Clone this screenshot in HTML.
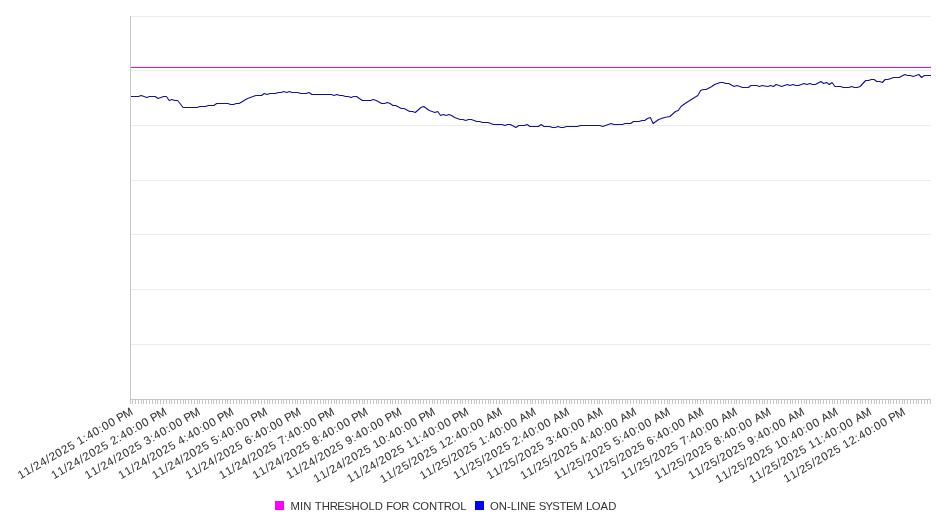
<!DOCTYPE html>
<html><head><meta charset="utf-8"><style>
html,body{margin:0;padding:0;background:#fff;width:946px;height:526px;overflow:hidden}
svg{display:block}
text{font-family:"Liberation Sans",sans-serif;}
  .lab{font-size:11.45px;fill:#333;stroke:#333;stroke-width:0.05px;}
.leg{font-size:11.3px;fill:#333}
</style></head><body>
<svg width="946" height="526" viewBox="0 0 946 526">
<rect width="946" height="526" fill="#fff"/>
<path d="M130 16.5H931M130 70.5H931M130 125.5H931M130 180.5H931M130 234.5H931M130 289.5H931M130 344.5H931" stroke="#ebebeb" stroke-width="1" fill="none"/>
<path d="M130 66.5H931" stroke="#ffd4ff" stroke-width="1" fill="none"/>
<path d="M130 67.5H931" stroke="#aa3caa" stroke-width="1" fill="none"/>
<polyline points="130.0,96.5 138.4,96.5 141.2,95.5 146.8,97.5 149.6,96.5 155.2,96.5 158.0,98.5 160.8,97.5 163.6,96.5 166.4,96.5 169.2,100.5 172.0,99.5 174.8,100.5 177.6,100.5 183.1,107.5 197.1,107.5 199.9,106.5 205.5,106.5 208.3,105.5 213.9,105.5 216.7,103.5 227.9,103.5 230.7,104.5 233.5,104.5 236.3,103.5 239.1,103.5 247.5,98.5 250.3,97.5 255.9,95.5 261.5,95.5 264.3,93.5 267.1,94.5 269.9,93.5 275.5,93.5 278.3,92.5 281.0,92.5 283.8,91.5 286.6,92.5 289.4,91.5 292.2,92.5 297.8,92.5 300.6,93.5 306.2,93.5 309.0,92.5 311.8,94.5 331.4,94.5 334.2,95.5 337.0,94.5 339.8,95.5 342.6,95.5 345.4,96.5 348.2,96.5 351.0,97.5 353.8,96.5 356.6,96.5 362.2,100.5 370.6,100.5 373.4,99.5 376.2,100.5 381.7,103.5 384.5,103.5 387.3,102.5 390.1,103.5 392.9,105.5 395.7,105.5 401.3,108.5 404.1,108.5 409.7,111.5 412.5,111.5 415.3,112.5 420.9,107.5 423.7,106.5 429.3,110.5 434.9,112.5 437.7,111.5 440.5,115.5 443.3,114.5 446.1,115.5 448.9,114.5 451.7,115.5 454.5,117.5 460.1,119.5 462.9,119.5 465.7,120.5 468.5,119.5 471.3,119.5 476.9,121.5 479.7,121.5 482.4,122.5 488.0,122.5 493.6,124.5 502.0,124.5 504.8,125.5 507.6,124.5 510.4,124.5 516.0,127.5 518.8,125.5 524.4,125.5 527.2,124.5 530.0,126.5 538.4,126.5 541.2,124.5 544.0,126.5 549.6,126.5 552.4,127.5 555.2,127.5 558.0,126.5 560.8,127.5 563.6,127.5 566.4,126.5 577.6,126.5 580.3,125.5 599.9,125.5 602.7,126.5 608.3,124.5 611.1,123.5 613.9,124.5 622.3,124.5 625.1,123.5 630.7,123.5 633.5,121.5 639.1,121.5 641.9,120.5 644.7,120.5 647.5,118.5 650.3,117.5 653.1,123.5 658.7,119.5 664.3,117.5 669.9,116.5 675.5,111.5 678.3,110.5 681.0,106.5 686.6,102.5 697.8,95.5 700.6,90.5 703.4,89.5 706.2,89.5 711.8,86.5 714.6,84.5 720.2,82.5 723.0,82.5 725.8,83.5 728.6,83.5 734.2,86.5 737.0,85.5 742.6,87.5 748.2,87.5 751.0,85.5 756.6,85.5 759.4,86.5 762.2,85.5 767.8,86.5 770.6,85.5 773.4,86.5 776.2,84.5 781.7,86.5 784.5,85.5 787.3,84.5 790.1,85.5 792.9,84.5 795.7,85.5 798.5,85.5 801.3,84.5 804.1,83.5 806.9,84.5 809.7,83.5 812.5,84.5 815.3,84.5 820.9,81.5 823.7,83.5 826.5,82.5 829.3,84.5 832.1,82.5 834.9,86.5 840.5,86.5 843.3,87.5 848.9,87.5 851.7,86.5 854.5,87.5 857.3,87.5 860.1,86.5 865.7,80.5 868.5,80.5 871.3,79.5 874.1,79.5 876.9,81.5 879.7,81.5 882.4,82.5 885.2,79.5 888.0,79.5 893.6,77.5 896.4,77.5 899.2,77.5 904.8,74.5 907.6,75.5 910.4,75.5 913.2,76.5 918.8,74.5 921.6,77.5 924.4,75.5 930.0,75.5 931.0,75.5" stroke="#14109a" stroke-width="1.1" fill="none" stroke-linejoin="round"/>
<path d="M130.5 16V399" stroke="#c6c6c6" stroke-width="1" fill="none"/>
<path d="M130 399.5H931" stroke="#c6c6c6" stroke-width="1" fill="none"/>
<path d="M130.5 399V404M132.5 399V404M135.5 399V404M138.5 399V404M141.5 399V404M143.5 399V404M146.5 399V404M149.5 399V404M152.5 399V404M155.5 399V404M157.5 399V404M160.5 399V404M163.5 399V404M166.5 399V404M169.5 399V404M171.5 399V404M174.5 399V404M177.5 399V404M180.5 399V404M183.5 399V404M185.5 399V404M188.5 399V404M191.5 399V404M194.5 399V404M197.5 399V404M199.5 399V404M202.5 399V404M205.5 399V404M208.5 399V404M211.5 399V404M213.5 399V404M216.5 399V404M219.5 399V404M222.5 399V404M225.5 399V404M227.5 399V404M230.5 399V404M233.5 399V404M236.5 399V404M239.5 399V404M241.5 399V404M244.5 399V404M247.5 399V404M250.5 399V404M253.5 399V404M255.5 399V404M258.5 399V404M261.5 399V404M264.5 399V404M267.5 399V404M269.5 399V404M272.5 399V404M275.5 399V404M278.5 399V404M281.5 399V404M283.5 399V404M286.5 399V404M289.5 399V404M292.5 399V404M295.5 399V404M297.5 399V404M300.5 399V404M303.5 399V404M306.5 399V404M309.5 399V404M311.5 399V404M314.5 399V404M317.5 399V404M320.5 399V404M323.5 399V404M325.5 399V404M328.5 399V404M331.5 399V404M334.5 399V404M336.5 399V404M339.5 399V404M342.5 399V404M345.5 399V404M348.5 399V404M350.5 399V404M353.5 399V404M356.5 399V404M359.5 399V404M362.5 399V404M364.5 399V404M367.5 399V404M370.5 399V404M373.5 399V404M376.5 399V404M378.5 399V404M381.5 399V404M384.5 399V404M387.5 399V404M390.5 399V404M392.5 399V404M395.5 399V404M398.5 399V404M401.5 399V404M404.5 399V404M406.5 399V404M409.5 399V404M412.5 399V404M415.5 399V404M418.5 399V404M420.5 399V404M423.5 399V404M426.5 399V404M429.5 399V404M432.5 399V404M434.5 399V404M437.5 399V404M440.5 399V404M443.5 399V404M446.5 399V404M448.5 399V404M451.5 399V404M454.5 399V404M457.5 399V404M460.5 399V404M462.5 399V404M465.5 399V404M468.5 399V404M471.5 399V404M474.5 399V404M476.5 399V404M479.5 399V404M482.5 399V404M485.5 399V404M488.5 399V404M490.5 399V404M493.5 399V404M496.5 399V404M499.5 399V404M502.5 399V404M504.5 399V404M507.5 399V404M510.5 399V404M513.5 399V404M516.5 399V404M518.5 399V404M521.5 399V404M524.5 399V404M527.5 399V404M530.5 399V404M532.5 399V404M535.5 399V404M538.5 399V404M541.5 399V404M543.5 399V404M546.5 399V404M549.5 399V404M552.5 399V404M555.5 399V404M557.5 399V404M560.5 399V404M563.5 399V404M566.5 399V404M569.5 399V404M571.5 399V404M574.5 399V404M577.5 399V404M580.5 399V404M583.5 399V404M585.5 399V404M588.5 399V404M591.5 399V404M594.5 399V404M597.5 399V404M599.5 399V404M602.5 399V404M605.5 399V404M608.5 399V404M611.5 399V404M613.5 399V404M616.5 399V404M619.5 399V404M622.5 399V404M625.5 399V404M627.5 399V404M630.5 399V404M633.5 399V404M636.5 399V404M639.5 399V404M641.5 399V404M644.5 399V404M647.5 399V404M650.5 399V404M653.5 399V404M655.5 399V404M658.5 399V404M661.5 399V404M664.5 399V404M667.5 399V404M669.5 399V404M672.5 399V404M675.5 399V404M678.5 399V404M681.5 399V404M683.5 399V404M686.5 399V404M689.5 399V404M692.5 399V404M695.5 399V404M697.5 399V404M700.5 399V404M703.5 399V404M706.5 399V404M709.5 399V404M711.5 399V404M714.5 399V404M717.5 399V404M720.5 399V404M723.5 399V404M725.5 399V404M728.5 399V404M731.5 399V404M734.5 399V404M736.5 399V404M739.5 399V404M742.5 399V404M745.5 399V404M748.5 399V404M750.5 399V404M753.5 399V404M756.5 399V404M759.5 399V404M762.5 399V404M764.5 399V404M767.5 399V404M770.5 399V404M773.5 399V404M776.5 399V404M778.5 399V404M781.5 399V404M784.5 399V404M787.5 399V404M790.5 399V404M792.5 399V404M795.5 399V404M798.5 399V404M801.5 399V404M804.5 399V404M806.5 399V404M809.5 399V404M812.5 399V404M815.5 399V404M818.5 399V404M820.5 399V404M823.5 399V404M826.5 399V404M829.5 399V404M832.5 399V404M834.5 399V404M837.5 399V404M840.5 399V404M843.5 399V404M846.5 399V404M848.5 399V404M851.5 399V404M854.5 399V404M857.5 399V404M860.5 399V404M862.5 399V404M865.5 399V404M868.5 399V404M871.5 399V404M874.5 399V404M876.5 399V404M879.5 399V404M882.5 399V404M885.5 399V404M888.5 399V404M890.5 399V404M893.5 399V404M896.5 399V404M899.5 399V404M902.5 399V404M904.5 399V404M907.5 399V404M910.5 399V404M913.5 399V404M916.5 399V404M918.5 399V404M921.5 399V404M924.5 399V404M927.5 399V404M930.5 399V404" stroke="#c6c6c6" stroke-width="1" fill="none"/>
<g class="lab" style="filter:grayscale(1)">
<text transform="translate(131.94,410.40) rotate(-30) scale(1.0,1)" x="-131.12 -123.98 -116.93 -113.06 -105.92 -98.87 -95.00 -87.86 -80.73 -73.59 -66.64 -62.88 -55.83 -51.96 -44.83 -37.77 -33.91 -26.77 -19.82 -16.88 -9.61" y="4.0">11/24/2025 1:40:00 PM</text>
<text transform="translate(165.51,410.40) rotate(-30) scale(1.0,1)" x="-131.12 -123.98 -116.93 -113.06 -105.92 -98.87 -95.00 -87.86 -80.73 -73.59 -66.64 -62.88 -55.83 -51.96 -44.83 -37.77 -33.91 -26.77 -19.82 -16.88 -9.61" y="4.0">11/24/2025 2:40:00 PM</text>
<text transform="translate(199.07,410.40) rotate(-30) scale(1.0,1)" x="-131.12 -123.98 -116.93 -113.06 -105.92 -98.87 -95.00 -87.86 -80.73 -73.59 -66.64 -62.88 -55.83 -51.96 -44.83 -37.77 -33.91 -26.77 -19.82 -16.88 -9.61" y="4.0">11/24/2025 3:40:00 PM</text>
<text transform="translate(232.64,410.40) rotate(-30) scale(1.0,1)" x="-131.12 -123.98 -116.93 -113.06 -105.92 -98.87 -95.00 -87.86 -80.73 -73.59 -66.64 -62.88 -55.83 -51.96 -44.83 -37.77 -33.91 -26.77 -19.82 -16.88 -9.61" y="4.0">11/24/2025 4:40:00 PM</text>
<text transform="translate(266.21,410.40) rotate(-30) scale(1.0,1)" x="-131.12 -123.98 -116.93 -113.06 -105.92 -98.87 -95.00 -87.86 -80.73 -73.59 -66.64 -62.88 -55.83 -51.96 -44.83 -37.77 -33.91 -26.77 -19.82 -16.88 -9.61" y="4.0">11/24/2025 5:40:00 PM</text>
<text transform="translate(299.77,410.40) rotate(-30) scale(1.0,1)" x="-131.12 -123.98 -116.93 -113.06 -105.92 -98.87 -95.00 -87.86 -80.73 -73.59 -66.64 -62.88 -55.83 -51.96 -44.83 -37.77 -33.91 -26.77 -19.82 -16.88 -9.61" y="4.0">11/24/2025 6:40:00 PM</text>
<text transform="translate(333.34,410.40) rotate(-30) scale(1.0,1)" x="-131.12 -123.98 -116.93 -113.06 -105.92 -98.87 -95.00 -87.86 -80.73 -73.59 -66.64 -62.88 -55.83 -51.96 -44.83 -37.77 -33.91 -26.77 -19.82 -16.88 -9.61" y="4.0">11/24/2025 7:40:00 PM</text>
<text transform="translate(366.91,410.40) rotate(-30) scale(1.0,1)" x="-131.12 -123.98 -116.93 -113.06 -105.92 -98.87 -95.00 -87.86 -80.73 -73.59 -66.64 -62.88 -55.83 -51.96 -44.83 -37.77 -33.91 -26.77 -19.82 -16.88 -9.61" y="4.0">11/24/2025 8:40:00 PM</text>
<text transform="translate(400.47,410.40) rotate(-30) scale(1.0,1)" x="-131.12 -123.98 -116.93 -113.06 -105.92 -98.87 -95.00 -87.86 -80.73 -73.59 -66.64 -62.88 -55.83 -51.96 -44.83 -37.77 -33.91 -26.77 -19.82 -16.88 -9.61" y="4.0">11/24/2025 9:40:00 PM</text>
<text transform="translate(434.04,410.40) rotate(-30) scale(1.0,1)" x="-138.26 -131.12 -124.06 -120.20 -113.06 -106.01 -102.14 -95.00 -87.86 -80.73 -73.78 -70.02 -62.88 -55.83 -51.96 -44.83 -37.77 -33.91 -26.77 -19.82 -16.88 -9.61" y="4.0">11/24/2025 10:40:00 PM</text>
<text transform="translate(467.60,410.40) rotate(-30) scale(1.0,1)" x="-138.26 -131.12 -124.06 -120.20 -113.06 -106.01 -102.14 -95.00 -87.86 -80.73 -73.78 -70.02 -62.88 -55.83 -51.96 -44.83 -37.77 -33.91 -26.77 -19.82 -16.88 -9.61" y="4.0">11/24/2025 11:40:00 PM</text>
<text transform="translate(501.17,410.40) rotate(-30) scale(1.0,1)" x="-139.16 -132.03 -124.97 -121.11 -113.97 -106.92 -103.05 -95.91 -88.77 -81.63 -74.69 -70.93 -63.79 -56.74 -52.87 -45.73 -38.68 -34.81 -27.68 -20.73 -17.34 -9.61" y="4.0">11/25/2025 12:40:00 AM</text>
<text transform="translate(534.74,410.40) rotate(-30) scale(1.0,1)" x="-132.03 -124.89 -117.84 -113.97 -106.83 -99.78 -95.91 -88.77 -81.64 -74.50 -67.55 -63.79 -56.74 -52.87 -45.73 -38.68 -34.82 -27.68 -20.73 -17.34 -9.61" y="4.0">11/25/2025 1:40:00 AM</text>
<text transform="translate(568.30,410.40) rotate(-30) scale(1.0,1)" x="-132.03 -124.89 -117.84 -113.97 -106.83 -99.78 -95.91 -88.77 -81.64 -74.50 -67.55 -63.79 -56.74 -52.87 -45.73 -38.68 -34.82 -27.68 -20.73 -17.34 -9.61" y="4.0">11/25/2025 2:40:00 AM</text>
<text transform="translate(601.87,410.40) rotate(-30) scale(1.0,1)" x="-132.03 -124.89 -117.84 -113.97 -106.83 -99.78 -95.91 -88.77 -81.64 -74.50 -67.55 -63.79 -56.74 -52.87 -45.73 -38.68 -34.82 -27.68 -20.73 -17.34 -9.61" y="4.0">11/25/2025 3:40:00 AM</text>
<text transform="translate(635.44,410.40) rotate(-30) scale(1.0,1)" x="-132.03 -124.89 -117.84 -113.97 -106.83 -99.78 -95.91 -88.77 -81.64 -74.50 -67.55 -63.79 -56.74 -52.87 -45.73 -38.68 -34.82 -27.68 -20.73 -17.34 -9.61" y="4.0">11/25/2025 4:40:00 AM</text>
<text transform="translate(669.00,410.40) rotate(-30) scale(1.0,1)" x="-132.03 -124.89 -117.84 -113.97 -106.83 -99.78 -95.91 -88.77 -81.64 -74.50 -67.55 -63.79 -56.74 -52.87 -45.73 -38.68 -34.82 -27.68 -20.73 -17.34 -9.61" y="4.0">11/25/2025 5:40:00 AM</text>
<text transform="translate(702.57,410.40) rotate(-30) scale(1.0,1)" x="-132.03 -124.89 -117.84 -113.97 -106.83 -99.78 -95.91 -88.77 -81.64 -74.50 -67.55 -63.79 -56.74 -52.87 -45.73 -38.68 -34.82 -27.68 -20.73 -17.34 -9.61" y="4.0">11/25/2025 6:40:00 AM</text>
<text transform="translate(736.14,410.40) rotate(-30) scale(1.0,1)" x="-132.03 -124.89 -117.84 -113.97 -106.83 -99.78 -95.91 -88.77 -81.64 -74.50 -67.55 -63.79 -56.74 -52.87 -45.73 -38.68 -34.82 -27.68 -20.73 -17.34 -9.61" y="4.0">11/25/2025 7:40:00 AM</text>
<text transform="translate(769.70,410.40) rotate(-30) scale(1.0,1)" x="-132.03 -124.89 -117.84 -113.97 -106.83 -99.78 -95.91 -88.77 -81.64 -74.50 -67.55 -63.79 -56.74 -52.87 -45.73 -38.68 -34.82 -27.68 -20.73 -17.34 -9.61" y="4.0">11/25/2025 8:40:00 AM</text>
<text transform="translate(803.27,410.40) rotate(-30) scale(1.0,1)" x="-132.03 -124.89 -117.84 -113.97 -106.83 -99.78 -95.91 -88.77 -81.64 -74.50 -67.55 -63.79 -56.74 -52.87 -45.73 -38.68 -34.82 -27.68 -20.73 -17.34 -9.61" y="4.0">11/25/2025 9:40:00 AM</text>
<text transform="translate(836.84,410.40) rotate(-30) scale(1.0,1)" x="-139.16 -132.03 -124.97 -121.11 -113.97 -106.92 -103.05 -95.91 -88.77 -81.63 -74.69 -70.93 -63.79 -56.74 -52.87 -45.73 -38.68 -34.81 -27.68 -20.73 -17.34 -9.61" y="4.0">11/25/2025 10:40:00 AM</text>
<text transform="translate(870.40,410.40) rotate(-30) scale(1.0,1)" x="-139.16 -132.03 -124.97 -121.11 -113.97 -106.92 -103.05 -95.91 -88.77 -81.63 -74.69 -70.93 -63.79 -56.74 -52.87 -45.73 -38.68 -34.81 -27.68 -20.73 -17.34 -9.61" y="4.0">11/25/2025 11:40:00 AM</text>
<text transform="translate(903.97,410.40) rotate(-30) scale(1.0,1)" x="-138.26 -131.12 -124.06 -120.20 -113.06 -106.01 -102.14 -95.00 -87.86 -80.73 -73.78 -70.02 -62.88 -55.83 -51.96 -44.83 -37.77 -33.91 -26.77 -19.82 -16.88 -9.61" y="4.0">11/25/2025 12:40:00 PM</text>
</g>
<rect x="275" y="501" width="9" height="9" fill="#ff00ff"/>
<g style="filter:grayscale(1)"><text class="leg" transform="scale(1.0,1)" x="290.54 300.04 303.27 311.64 314.87 321.73 329.69 337.30 344.27 351.58 359.73 368.38 374.74 383.23 386.26 392.81 401.28 409.36 412.44 420.29 429.05 437.15 443.70 451.54 460.19" y="510">MIN THRESHOLD FOR CONTROL</text></g>
<rect x="475" y="501" width="9" height="9" fill="#0000ff"/>
<g style="filter:grayscale(1)"><text class="leg" transform="scale(1.0,1)" x="489.93 498.69 506.99 510.78 517.04 520.26 528.16 535.59 538.63 545.48 552.33 559.50 566.01 573.30 582.93 585.97 591.82 600.44 608.13" y="510">ON-LINE SYSTEM LOAD</text></g>
</svg>
</body></html>
